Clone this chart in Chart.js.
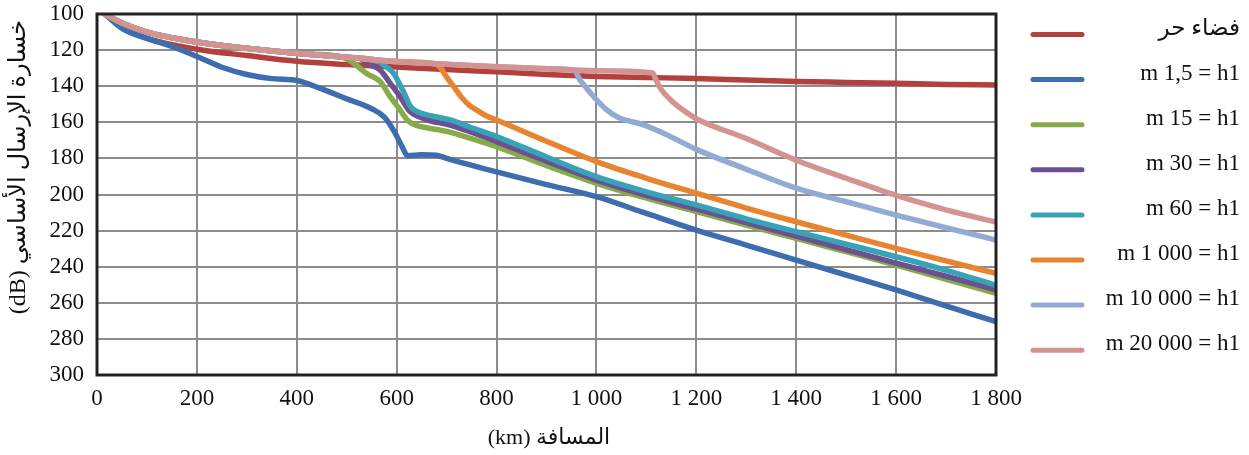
<!DOCTYPE html>
<html>
<head>
<meta charset="utf-8">
<script src="https://cdn.jsdelivr.net/npm/chart.js@4.4.1/dist/chart.umd.min.js"></script>
<style>
  html, body { margin: 0; padding: 0; background: #fff; }
  #wrap { width: 1249px; height: 455px; position: relative; }
</style>
</head>
<body>
<div id="wrap"><canvas id="lossChart"></canvas></div>
<script>
// Basic transmission loss (dB) vs distance (km), one array of [km, dB] per curve

const seriesLabels = ['فضاء حر', 'm 1,5 = h1', 'm 15 = h1', 'm 30 = h1', 'm 60 = h1',
                      'm 1 000 = h1', 'm 10 000 = h1', 'm 20 000 = h1'];
const seriesColors = ['#b3403c', '#3e6daf', '#86ac4a', '#6c5090', '#38a2b8',
                      '#e8842f', '#93abd4', '#d49391'];

const xTicks = [0, 200, 400, 600, 800, 1000, 1200, 1400, 1600, 1800];
const yTicks = [100, 120, 140, 160, 180, 200, 220, 240, 260, 280, 300];

const freeSpace = [[16,100],[50,107.5],[100,113.5],[200,119.5],[300,123],[400,126.2],[500,128],
  [600,129.3],[700,130.8],[800,132],[900,133.5],[1000,134.6],[1100,135.2],[1200,135.7],
  [1300,136.6],[1400,137.4],[1500,137.9],[1600,138.4],[1700,139],[1800,139.3]];

const h1_5 = [[16,100],[50,108],[100,113.5],[150,118],[200,123.5],[250,129.5],[300,133.5],
  [350,135.8],[400,136.8],[450,141.5],[500,147],[550,152.5],[575,157],[595,165],[610,173],
  [622,178.5],[650,178],[680,178.3],[700,180],[800,187.5],[900,194.5],[1000,201.2],
  [1100,210.5],[1200,219.7],[1300,228],[1400,236.3],[1500,244.6],[1600,252.9],[1700,261.7],[1800,270.5]];

// common upper branch shared by the high-antenna curves before they break away
const upperBranch = [[16,100],[50,105],[100,110],[200,115.5],[300,119],[400,121.8],[500,124],
  [600,126.3],[700,127.8],[800,129.2],[900,130.3],[1000,131.4],[1112,132.6]];

const h15Tail = [[490,123.8],[510,126.5],[540,133],[567,137.5],[587,145.8],[607,153.2],[622,159],
  [640,161.8],[660,163],[700,165],[750,169],[800,173.5],[900,184],[1000,193.8],[1100,202],
  [1200,209.5],[1300,217],[1400,224.3],[1500,231.7],[1600,239.1],[1700,247],[1800,254.7]];

const h30Tail = [[525,124.6],[545,127.8],[567,131],[587,138.4],[607,145.8],[625,153.5],[645,157],
  [665,159],[707,161.5],[750,165.5],[800,170.7],[900,181.5],[1000,192],[1100,200.5],
  [1200,208],[1300,215.5],[1400,223],[1500,230.5],[1600,238],[1700,245.3],[1800,252.8]];

const h60Tail = [[560,125.6],[574,128.3],[594,132.9],[607,139.5],[617,145],[627,151],[640,154],
  [655,155.5],[687,157.5],[707,158.7],[750,163],[800,167.9],[900,179.2],[1000,190.1],
  [1100,198.5],[1200,205.8],[1300,213.5],[1400,220.6],[1500,227.5],[1600,234.5],[1700,242],[1800,250.3]];

const h1000Tail = [[675,127.5],[687,129.5],[700,135],[715,140.5],[728,145.5],[745,150.5],[762,153.5],
  [780,156.5],[800,158.7],[900,170.5],[1000,181.8],[1100,191],[1200,199.3],[1300,207.5],
  [1400,215.1],[1500,222.5],[1600,229.8],[1700,236.8],[1800,243.7]];

const h10000Tail = [[955,131],[967,136.6],[980,141],[995,146],[1020,153],[1045,157.5],[1090,161],
  [1130,165.5],[1200,175],[1300,186],[1400,196.5],[1500,204],[1600,211.4],[1700,218.4],[1800,225.2]];

const h20000Tail = [[1120,137],[1130,142],[1150,148],[1175,153.5],[1200,158],[1300,169],[1400,181],
  [1500,191],[1600,200.5],[1700,208.5],[1800,215.3]];

const withUpper = tail => upperBranch.filter(p => p[0] < tail[0][0]).concat(tail);

const seriesData = [
  freeSpace,
  h1_5,
  withUpper(h15Tail),
  withUpper(h30Tail),
  withUpper(h60Tail),
  withUpper(h1000Tail),
  withUpper(h10000Tail),
  upperBranch.concat(h20000Tail),
];

const SERIF = "'Liberation Serif', 'Times New Roman', 'DejaVu Sans', serif";

function fmtKm(v) {
  if (v < 1000) return String(v);
  return Math.floor(v / 1000) + ' ' + String(v % 1000).padStart(3, '0');
}

// frame, axis titles and the right-hand legend
const decorPlugin = {
  id: 'decor',
  afterDraw(chart) {
    const { ctx, chartArea: a } = chart;
    ctx.save();
    ctx.strokeStyle = '#222';
    ctx.lineWidth = 3;
    ctx.strokeRect(a.left, a.top, a.right - a.left, a.bottom - a.top);

    ctx.fillStyle = '#111';
    ctx.font = '22px ' + SERIF;
    ctx.textAlign = 'center';
    ctx.textBaseline = 'middle';
    ctx.fillText('(km) المسافة', 549, 438);

    ctx.save();
    ctx.translate(19, 167);
    ctx.rotate(-Math.PI / 2);
    ctx.font = '24px ' + SERIF;
    ctx.fillText('(dB) خسارة الإرسال الأساسي', 0, 0);
    ctx.restore();

    ctx.font = '23px ' + SERIF;
    ctx.textAlign = 'right';
    ctx.lineCap = 'round';
    seriesLabels.forEach((label, i) => {
      const y = 34.5 + i * 45.1;
      ctx.strokeStyle = seriesColors[i];
      ctx.lineWidth = 5;
      ctx.beginPath();
      ctx.moveTo(1033, y);
      ctx.lineTo(1082, y);
      ctx.stroke();
      ctx.fillText(label, 1240, y - 6);
    });
    ctx.restore();
  },
};

const tickFont = { family: SERIF, size: 23 };

new Chart(document.getElementById('lossChart'), {
  type: 'line',
  data: {
    datasets: seriesData.map((pts, i) => ({
      label: seriesLabels[i],
      data: pts.map(p => ({ x: p[0], y: p[1] })),
      borderColor: seriesColors[i],
      order: seriesData.length - 1 - i,
    })),
  },
  options: {
    responsive: true,
    maintainAspectRatio: false,
    animation: false,
    layout: { padding: { left: 0, top: 14, right: 253, bottom: 0 } },
    elements: {
      point: { radius: 0 },
      line: { borderWidth: 5.5, cubicInterpolationMode: 'monotone', borderCapStyle: 'round', borderJoinStyle: 'round' },
    },
    plugins: { legend: { display: false }, tooltip: { enabled: false } },
    scales: {
      x: {
        type: 'linear',
        min: 0,
        max: 1800,
        afterBuildTicks: s => { s.ticks = xTicks.map(v => ({ value: v })); },
        afterFit: s => { s.height = 80; s.paddingLeft = 0; s.paddingRight = 0; },
        ticks: { color: '#111', font: tickFont, padding: 10, maxRotation: 0, callback: v => fmtKm(v) },
        grid: { color: '#8c8c8c', lineWidth: 2, drawTicks: false },
        border: { display: false },
      },
      y: {
        type: 'linear',
        min: 100,
        max: 300,
        reverse: true,
        afterBuildTicks: s => { s.ticks = yTicks.map(v => ({ value: v })); },
        afterFit: s => { s.width = 97; s.paddingTop = 0; s.paddingBottom = 0; },
        ticks: { color: '#111', font: tickFont, padding: 13 },
        grid: { color: '#8c8c8c', lineWidth: 2, drawTicks: false },
        border: { display: false },
      },
    },
  },
  plugins: [decorPlugin],
});
</script>
</body>
</html>
